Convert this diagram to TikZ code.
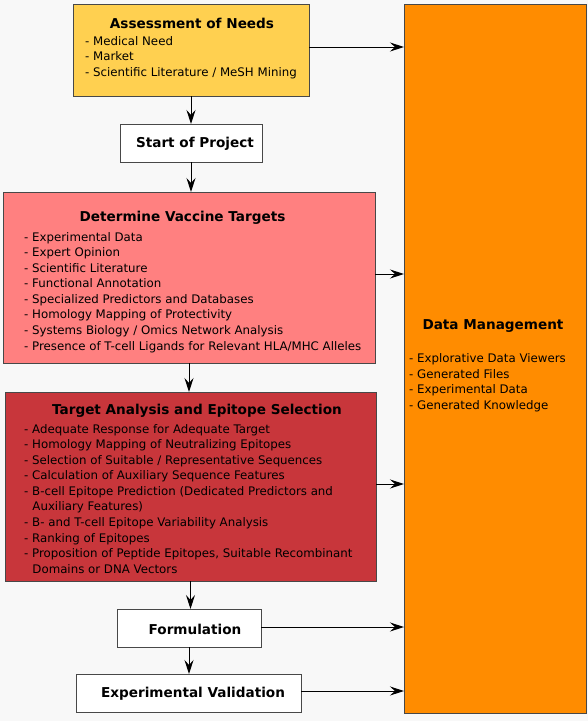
\documentclass[tikz,border=0pt]{standalone}
\usepackage{fontspec}
\setmainfont{DejaVu Sans}
\usetikzlibrary{arrows.meta,calc}
\definecolor{bg}{HTML}{F8F8F8}
\definecolor{assessc}{HTML}{FFD050}
\definecolor{dvtc}{HTML}{FF8080}
\definecolor{tac}{HTML}{C8363B}
\definecolor{dmc}{HTML}{FF8C00}
\definecolor{edge}{HTML}{484848}
\begin{document}
\begin{tikzpicture}[x=1pt,y=-1pt,
  box/.style={draw=edge,line width=0.9pt,inner sep=0pt,outer sep=0pt},
  arr/.style={draw=black,line width=1pt,-{Stealth[length=14pt,width=9pt,inset=5pt]}},
  ttl/.style={font=\fontsize{13.6}{16}\selectfont\bfseries,inner sep=0pt},
  lst/.style={font=\fontsize{11.8}{15.55}\selectfont,align=left,anchor=north west,inner sep=0pt}]
\fill[bg] (0,0) rectangle (588,721);
\useasboundingbox (0,0) rectangle (588,721);
% boxes
\node[box,fill=assessc,minimum width=236pt,minimum height=92pt] (assess) at (191,50) {};
\node[box,fill=white,minimum width=142pt,minimum height=38pt] (start) at (191,143) {};
\node[box,fill=dvtc,minimum width=372pt,minimum height=171pt] (dvt) at (189,277.5) {};
\node[box,fill=tac,minimum width=371pt,minimum height=189pt] (ta) at (190.5,486.5) {};
\node[box,fill=white,minimum width=144pt,minimum height=38pt] (form) at (189,628) {};
\node[box,fill=white,minimum width=225pt,minimum height=38pt] (ev) at (188.5,693) {};
\node[box,fill=dmc,minimum width=182pt,minimum height=709pt] (dm) at (495,358.5) {};
% texts
\node[ttl] (assessT) at (192,23) {Assessment of Needs};
\node[lst] (assessL) at (85,36) {- Medical Need\\- Market\\- Scientific Literature / MeSH Mining};
\node[ttl] (startT) at (195,144) {Start of Project};
\node[ttl] (dvtT) at (182.5,218) {Determine Vaccine Targets};
\node[lst] (dvtL) at (24,232) {- Experimental Data\\- Expert Opinion\\- Scientific Literature\\- Functional Annotation\\- Specialized Predictors and Databases\\- Homology Mapping of Protectivity\\- Systems Biology / Omics Network Analysis\\- Presence of T-cell Ligands for Relevant HLA/MHC Alleles};
\node[ttl] (taT) at (197,411) {Target Analysis and Epitope Selection};
\node[lst] (taL) at (24,424) {- Adequate Response for Adequate Target\\- Homology Mapping of Neutralizing Epitopes\\- Selection of Suitable / Representative Sequences\\- Calculation of Auxiliary Sequence Features\\- B-cell Epitope Prediction (Dedicated Predictors and\\\hspace*{0.7em}Auxiliary Features)\\- B- and T-cell Epitope Variability Analysis\\- Ranking of Epitopes\\- Proposition of Peptide Epitopes, Suitable Recombinant\\\hspace*{0.7em}Domains or DNA Vectors};
\node[ttl] (formT) at (195,629) {Formulation};
\node[ttl] (evT) at (193,694) {Experimental Validation};
\node[ttl] (dmT) at (493,326) {Data Management};
\node[lst] (dmL) at (409,353.5) {- Explorative Data Viewers\\- Generated Files\\- Experimental Data\\- Generated Knowledge};
% vertical arrows
\draw[arr] (assess.south) -- (start.north);
\draw[arr] (start.south) -- (start.south |- dvt.north);
\draw[arr] (dvt.south) -- (dvt.south |- ta.north);
\draw[arr] (ta.south) -- (ta.south |- form.north);
\draw[arr] (form.south) -- (form.south |- ev.north);
% horizontal arrows
\draw[arr] ([yshift=3pt]assess.east) -- ([yshift=3pt]assess.east -| dm.west);
\draw[arr] ([yshift=3.5pt]dvt.east) -- ([yshift=3.5pt]dvt.east -| dm.west);
\draw[arr] ([yshift=2.5pt]ta.east) -- ([yshift=2.5pt]ta.east -| dm.west);
\draw[arr] ([yshift=1pt]form.east) -- ([yshift=1pt]form.east -| dm.west);
\draw[arr] ([yshift=2pt]ev.east) -- ([yshift=2pt]ev.east -| dm.west);
\end{tikzpicture}
\end{document}
